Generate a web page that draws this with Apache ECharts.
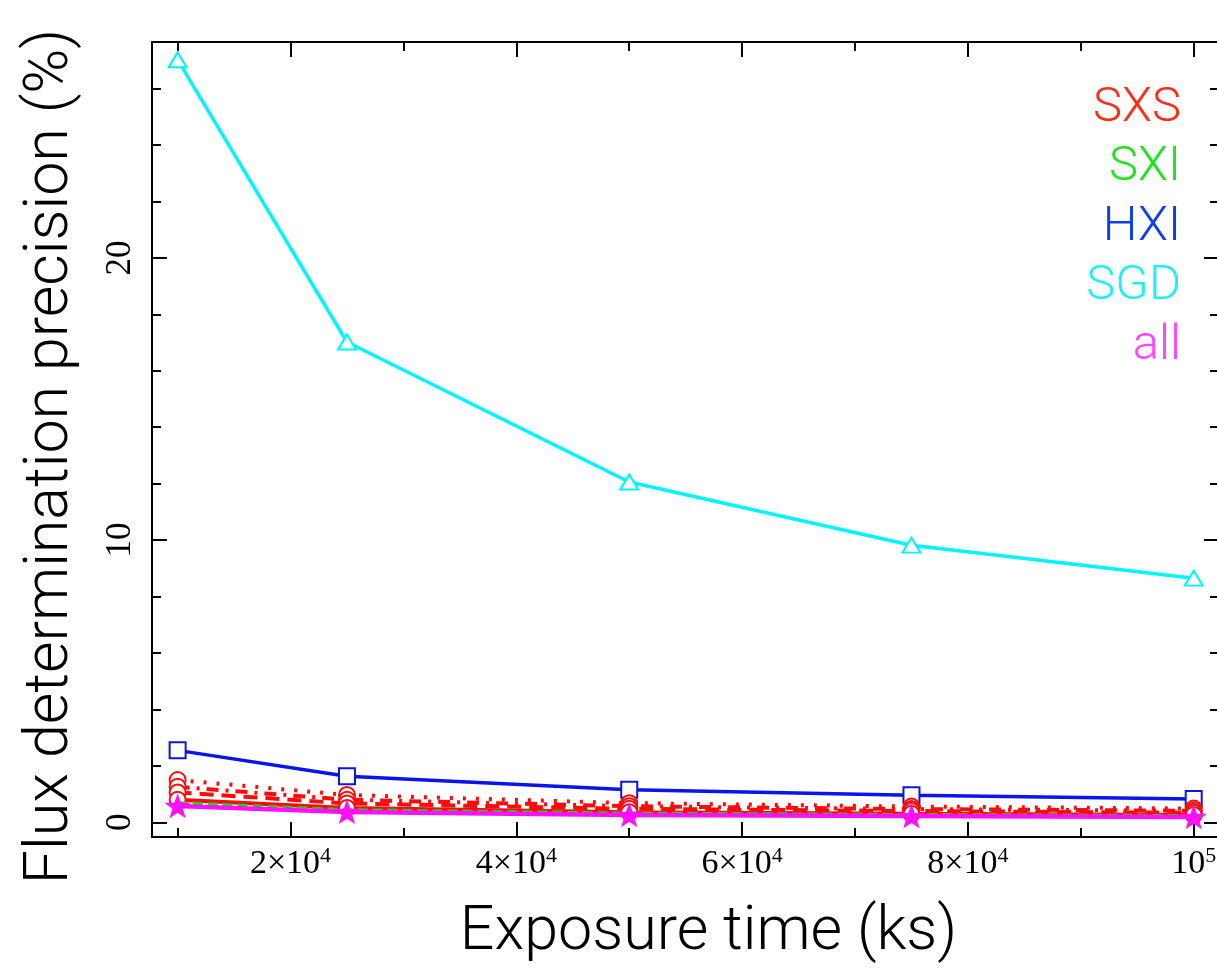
<!DOCTYPE html>
<html><head><meta charset="utf-8">
<script src="https://cdn.jsdelivr.net/npm/echarts@6/dist/echarts.min.js"></script>
<style>html,body{margin:0;padding:0;background:#fff}#c{width:1217px;height:968px}</style>
</head><body><div id="c"></div>
<script>
// ---- data ----
const exposure = [10000, 25000, 50000, 75000, 100000];
const sxsDotted  = [1.50, 0.97, 0.68, 0.56, 0.49];
const sxsDashDot = [1.26, 0.80, 0.57, 0.47, 0.41];
const sxsDashed  = [1.06, 0.67, 0.48, 0.40, 0.34];
const sxsSolid   = [0.80, 0.51, 0.36, 0.30, 0.26];
const sxi = [0.68, 0.43, 0.31, 0.26, 0.22];
const hxi = [2.55, 1.63, 1.15, 0.96, 0.83];
const sgd = [27.02, 17.02, 12.06, 9.82, 8.65];
const all = [0.58, 0.37, 0.26, 0.22, 0.19];

const xMajorTicks = [20000, 40000, 60000, 80000, 100000];
const xMinorTicks = [10000, 30000, 50000, 70000, 90000];
const xTickLabels = [['2×10','4'], ['4×10','4'], ['6×10','4'], ['8×10','4'], ['10','5']];
const yMajorTicks = [0, 10, 20];
const yMinorTicks = [2, 4, 6, 8, 12, 14, 16, 18, 22, 24, 26];
const yTickLabels = ['0', '10', '20'];
const legendNames = ['SXS', 'SXI', 'HXI', 'SGD', 'all'];
const legendColors = ['#ff2d17', '#1ee61e', '#0f3cf5', '#1ef0f5', '#ff44ff'];

// ---- chart ----
const X_MIN = 7730, X_MAX = 102240, Y_MIN = -0.52, Y_MAX = 27.65;
const serifFont = 'Liberation Serif';
const sansFont = 'Roboto';
const axisLineStyle = { color: '#000', width: 2 };

function pairs(vals) { return exposure.map((x, i) => [x, vals[i]]); }
const STAR = 'path://M0,-10L2.35,-3.24L9.51,-3.09L3.8,1.24L5.88,8.09L0,4.2L-5.88,8.09L-3.8,1.24L-9.51,-3.09L-2.35,-3.24Z';

function xAx(position, ticks, len, showLine, labels) {
  return {
    type: 'value', position, min: X_MIN, max: X_MAX,
    splitLine: { show: false },
    axisLine: { show: showLine, onZero: false, lineStyle: axisLineStyle },
    axisTick: { show: true, inside: true, length: len, customValues: ticks, lineStyle: { color: '#000', width: 2 } },
    axisLabel: labels ? {
      show: true, customValues: xMajorTicks, margin: 8,
      formatter: (v) => { const i = xMajorTicks.indexOf(v); return i < 0 ? '' : '{m|' + xTickLabels[i][0] + '}{s|' + xTickLabels[i][1] + '}'; },
      rich: {
        m: { fontFamily: serifFont, fontSize: 34, color: '#000' },
        s: { fontFamily: serifFont, fontSize: 22, color: '#000', padding: [0, 0, 17, 0] }
      }
    } : { show: false }
  };
}
function yAx(position, ticks, len, showLine, labels) {
  return {
    type: 'value', position, min: Y_MIN, max: Y_MAX,
    splitLine: { show: false },
    axisLine: { show: showLine, onZero: false, lineStyle: axisLineStyle },
    axisTick: { show: true, inside: true, length: len, customValues: ticks, lineStyle: { color: '#000', width: 2 } },
    axisLabel: labels ? {
      show: true, customValues: yMajorTicks, rotate: 90, margin: 14,
      fontFamily: serifFont, fontSize: 35, color: '#000',
      formatter: (v) => { const i = yMajorTicks.indexOf(v); return i < 0 ? '' : yTickLabels[i]; }
    } : { show: false }
  };
}

const xAxes = [
  Object.assign(xAx('bottom', xMajorTicks, 15, true, true), {
    name: 'Exposure time (ks)', nameLocation: 'middle', nameGap: 66,
    nameTextStyle: { fontFamily: sansFont, fontWeight: 300, fontSize: 61, color: '#000', padding: [0, 0, 0, 46] }
  }),
  xAx('bottom', xMinorTicks, 9, false, false),
  xAx('top', xMajorTicks, 15, true, false),
  xAx('top', xMinorTicks, 9, false, false)
];
const yAxes = [
  Object.assign(yAx('left', yMajorTicks, 15, true, true), {
    name: 'Flux determination precision (%)', nameLocation: 'middle', nameGap: 70,
    nameTextStyle: { fontFamily: sansFont, fontWeight: 300, fontSize: 61, color: '#000', padding: [0, 34, 0, 0] }
  }),
  yAx('left', yMinorTicks, 9, false, false),
  yAx('right', yMajorTicks, 15, true, false),
  yAx('right', yMinorTicks, 9, false, false)
];

function line(name, vals, color, type, width, symbol, size, z) {
  return {
    type: 'line', name, data: pairs(vals), xAxisIndex: 0, yAxisIndex: 0,
    symbol, symbolSize: size, symbolKeepAspect: true, showSymbol: true, z: z,
    lineStyle: { color, width, type },
    itemStyle: { color, borderColor: color, borderWidth: 1.5 },
    emphasis: { disabled: true }
  };
}

const series = [
  line('SGD', sgd, '#00f6ff', 'solid', 3.5, 'emptyTriangle', [18, 15], 2),
  line('HXI', hxi, '#0a14ee', 'solid', 3.5, 'emptyRect', 16, 3),
  line('SXS', sxsDotted, '#ff0a0a', [3, 10], 4, 'emptyCircle', 16, 4),
  line('SXS', sxsDashDot, '#ff0a0a', [12, 7, 3, 7], 4, 'emptyCircle', 16, 4),
  line('SXS', sxsDashed, '#ff0a0a', [14, 8], 4, 'emptyCircle', 16, 4),
  line('SXS', sxsSolid, '#ff0a0a', 'solid', 4, 'emptyCircle', 16, 4),
  line('SXI', sxi, '#10dd10', [10, 5], 4, 'none', 1, 5),
  line('all', all, '#ff10ff', 'solid', 4.5, STAR, 22, 6)
];

const legendTops = [79, 138, 198, 257, 317];
const legends = legendNames.map((n, i) => ({
  data: [{ name: n, textStyle: { color: legendColors[i] } }],
  icon: 'none', itemWidth: 0, itemHeight: 0, right: 31, top: legendTops[i],
  selectedMode: false,
  textStyle: { fontFamily: sansFont, fontWeight: 300, fontSize: 49, color: legendColors[i], padding: 0 }
}));

const chart = echarts.init(document.getElementById('c'), null, { renderer: 'canvas' });
chart.setOption({
  animation: false,
  backgroundColor: '#fff',
  grid: { left: 152, right: -2, top: 42, bottom: 131, outerBoundsMode: 'none' },
  legend: legends,
  xAxis: xAxes,
  yAxis: yAxes,
  series
});
</script></body></html>
